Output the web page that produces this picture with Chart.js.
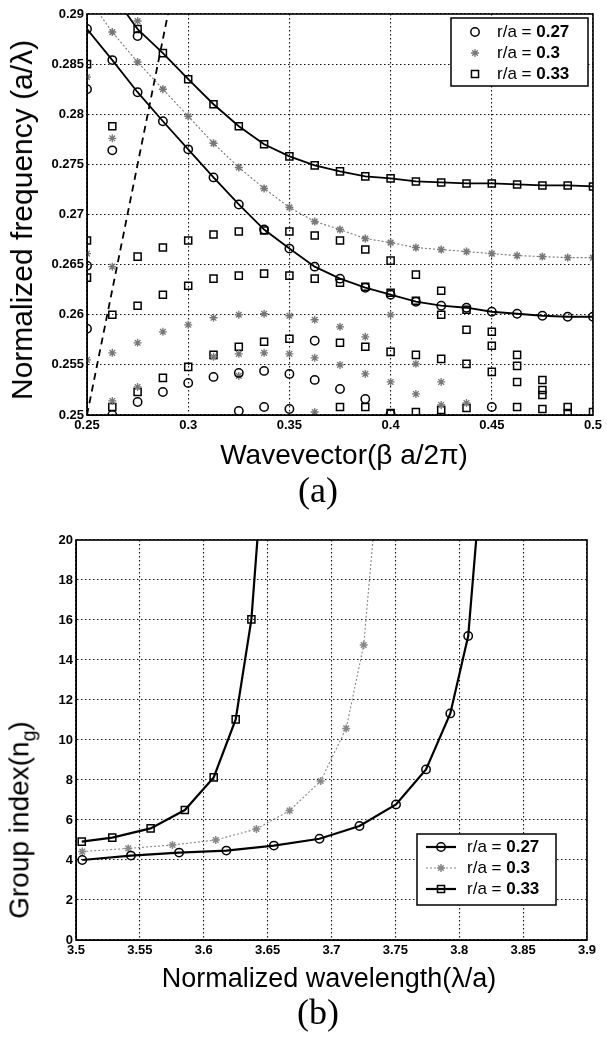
<!DOCTYPE html>
<html>
<head>
<meta charset="utf-8">
<script src="https://cdn.jsdelivr.net/npm/chart.js@4.4.1/dist/chart.umd.min.js"></script>
<style>
  body { margin: 0; background: #fff; }
  .page { position: relative; width: 607px; height: 1040px; overflow: hidden; font-family: 'Liberation Sans', Arial, sans-serif; color: #000; }
  .panel { position: absolute; left: 0; width: 607px; }
  .label { position: absolute; white-space: nowrap; transform: translate(-50%, -50%); line-height: 1; }
  .ylabel { transform: translate(-50%, -50%) rotate(-90deg); }
  .tag { font-family: 'Liberation Serif', 'Times New Roman', serif; font-size: 36px; }
  sub { font-size: 70%; }
</style>
</head>
<body>
<div class="page">
  <div class="panel" style="top:0;height:445px"><canvas id="bandChart"></canvas></div>
  <div class="panel" style="top:520px;height:450px"><canvas id="groupChart"></canvas></div>

  <div class="label ylabel" style="left:22px;top:220px;font-size:30px">Normalized frequency (a/λ)</div>
  <div class="label" style="left:344px;top:455px;font-size:28px">Wavevector(β a/2π)</div>
  <div class="label tag" style="left:318px;top:490px">(a)</div>

  <div class="label ylabel" style="left:22px;top:820px;font-size:28px">Group index(n<sub>g</sub>)</div>
  <div class="label" style="left:329px;top:978px;font-size:27px">Normalized wavelength(λ/a)</div>
  <div class="label tag" style="left:318px;top:1012px">(b)</div>
</div>

<script>
// (a) band diagram
const beta = [0.25, 0.2625, 0.275, 0.2875, 0.3, 0.3125, 0.325, 0.3375, 0.35, 0.3625, 0.375,
              0.3875, 0.4, 0.4125, 0.425, 0.4375, 0.45, 0.4625, 0.475, 0.4875, 0.5];
const band027 = [0.2885, 0.2854, 0.2822, 0.2793, 0.2765, 0.2737, 0.2710, 0.2685, 0.2666, 0.2648, 0.2636,
                 0.2627, 0.2620, 0.2613, 0.2609, 0.2607, 0.2603, 0.2601, 0.2599, 0.2598, 0.2598];
const band030 = [0.2917, 0.2882, 0.2852, 0.2825, 0.2798, 0.2771, 0.2747, 0.2726, 0.2707, 0.2693, 0.2685,
                 0.2676, 0.2672, 0.2667, 0.2665, 0.2663, 0.2661, 0.2659, 0.2658, 0.2657, 0.2657];
const band033 = [0.2955, 0.2920, 0.2885, 0.2861, 0.2835, 0.2810, 0.2788, 0.2770, 0.2758, 0.2749, 0.2743,
                 0.2738, 0.2736, 0.2733, 0.2732, 0.2731, 0.2731, 0.2730, 0.2729, 0.2729, 0.2728];

const lightBeta = [0.25, 0.29];
const lightFreq = [0.25, 0.29];

// other modes, not on the fitted curves
const circBeta = [0.25, 0.25, 0.25, 0.2625, 0.2625, 0.275, 0.275, 0.2875, 0.3, 0.3125, 0.325, 0.325,
                  0.3375, 0.3375, 0.35, 0.35, 0.3625, 0.3625, 0.375, 0.3875, 0.4, 0.45];
const circFreq = [0.2825, 0.2649, 0.2586, 0.2764, 0.2500, 0.2878, 0.2513, 0.2523, 0.2532, 0.2538, 0.2542, 0.2504,
                  0.2544, 0.2508, 0.2541, 0.2506, 0.2574, 0.2535, 0.2526, 0.2516, 0.2501, 0.2508];

const starBeta = [0.25, 0.25, 0.25, 0.2625, 0.2625, 0.2625, 0.2625, 0.275, 0.275, 0.275, 0.2875, 0.3,
                  0.3125, 0.3125, 0.325, 0.325, 0.325, 0.3375, 0.3375, 0.35, 0.35, 0.3625, 0.3625, 0.3625,
                  0.375, 0.375, 0.3875, 0.3875, 0.4, 0.4, 0.4125, 0.4125, 0.425, 0.425, 0.4375];
const starFreq = [0.2837, 0.2661, 0.2555, 0.2776, 0.2648, 0.2562, 0.2514, 0.2893, 0.2572, 0.2528, 0.2583, 0.2590,
                  0.2597, 0.2558, 0.2600, 0.2561, 0.2539, 0.2601, 0.2562, 0.2599, 0.2561, 0.2595, 0.2557, 0.2503,
                  0.2588, 0.2550, 0.2578, 0.2541, 0.2600, 0.2533, 0.2551, 0.2521, 0.2533, 0.2510, 0.2512];

const sqBeta = [0.25, 0.25, 0.25, 0.2625, 0.2625, 0.2625, 0.275, 0.275, 0.275, 0.2875, 0.2875, 0.2875,
                0.3, 0.3, 0.3, 0.3125, 0.3125, 0.3125, 0.325, 0.325, 0.325, 0.3375, 0.3375, 0.3375,
                0.35, 0.35, 0.35, 0.3625, 0.3625, 0.375, 0.375, 0.375, 0.375, 0.3875, 0.3875, 0.3875, 0.3875,
                0.4, 0.4, 0.4, 0.4, 0.4125, 0.4125, 0.4125, 0.4125, 0.425, 0.425, 0.425, 0.425,
                0.4375, 0.4375, 0.4375, 0.4375, 0.45, 0.45, 0.45, 0.4625, 0.4625, 0.4625, 0.4625,
                0.475, 0.475, 0.475, 0.475, 0.4875, 0.4875, 0.5];
const sqFreq = [0.2850, 0.2674, 0.2637, 0.2788, 0.2600, 0.2508, 0.2658, 0.2609, 0.2523, 0.2667, 0.2620, 0.2537,
                0.2674, 0.2629, 0.2548, 0.2680, 0.2636, 0.2560, 0.2683, 0.2639, 0.2568, 0.2684, 0.2641, 0.2573,
                0.2683, 0.2639, 0.2576, 0.2679, 0.2636, 0.2674, 0.2632, 0.2572, 0.2508, 0.2665, 0.2628, 0.2568, 0.2508,
                0.2654, 0.2622, 0.2563, 0.2502, 0.2640, 0.2614, 0.2560, 0.2503, 0.2624, 0.2600, 0.2556, 0.2505,
                0.2605, 0.2585, 0.2551, 0.2507, 0.2583, 0.2569, 0.2543, 0.2560, 0.2549, 0.2533, 0.2508,
                0.2535, 0.2525, 0.2520, 0.2506, 0.2508, 0.2502, 0.2503];

const betaTicks = [0.25, 0.3, 0.35, 0.4, 0.45, 0.5];
const freqTicks = [0.25, 0.255, 0.26, 0.265, 0.27, 0.275, 0.28, 0.285, 0.29];

// (b) group index
const wl027 = [3.5049, 3.5430, 3.5807, 3.6177, 3.6549, 3.6906, 3.7219, 3.7505, 3.7740, 3.7930, 3.8070, 3.8165];
const ng027 = [4.00, 4.22, 4.37, 4.47, 4.72, 5.06, 5.70, 6.78, 8.53, 11.33, 15.20, 22.5];
const wl030 = [3.5049, 3.5409, 3.5755, 3.6094, 3.6412, 3.6672, 3.6915, 3.7115, 3.7252, 3.7345];
const ng030 = [4.42, 4.58, 4.75, 5.00, 5.55, 6.47, 7.95, 10.58, 14.75, 21.5];
const wl033 = [3.5045, 3.5284, 3.5584, 3.5852, 3.6078, 3.6250, 3.6373, 3.6455];
const ng033 = [4.92, 5.12, 5.58, 6.50, 8.13, 11.03, 16.03, 23.0];

const wlTicks = [3.5, 3.55, 3.6, 3.65, 3.7, 3.75, 3.8, 3.85, 3.9];
const ngTicks = [0, 2, 4, 6, 8, 10, 12, 14, 16, 18, 20];

const seriesNames = ['r/a = 0.27', 'r/a = 0.3', 'r/a = 0.33'];

const pts = (xs, ys) => xs.map((x, i) => ({ x: x, y: ys[i] }));
const fmt = v => String(+Number(v).toFixed(4));
const tickFont = { family: "'Liberation Sans', Arial, sans-serif", size: 13, weight: 'bold' };

const framePlugin = {
    id: 'frame',
    afterDraw(chart) {
        const { ctx, chartArea: a } = chart;
        ctx.save();
        ctx.strokeStyle = '#000';
        ctx.lineWidth = 1.6;
        ctx.strokeRect(a.left, a.top, a.right - a.left, a.bottom - a.top);
        ctx.restore();
    }
};

const boxLegend = {
    id: 'boxLegend',
    afterDraw(chart, args, o) {
        const { ctx, chartArea } = chart;
        const items = chart.data.datasets.filter(d => d.inLegend);
        const left = chartArea.right - o.right - o.width;
        const top = o.top != null ? chartArea.top + o.top : chartArea.bottom - o.bottom - o.height;
        ctx.save();
        ctx.fillStyle = '#fff';
        ctx.fillRect(left, top, o.width, o.height);
        ctx.strokeStyle = '#000';
        ctx.lineWidth = 1.5;
        ctx.strokeRect(left, top, o.width, o.height);
        items.forEach((d, i) => {
            const y = top + o.firstRow + i * o.rowGap;
            const mx = left + o.markerX;
            if (o.lineSample) {
                ctx.save();
                ctx.strokeStyle = d.borderColor;
                ctx.lineWidth = d.borderWidth;
                ctx.setLineDash(d.borderDash || []);
                ctx.beginPath();
                ctx.moveTo(mx - o.lineHalf, y);
                ctx.lineTo(mx + o.lineHalf, y);
                ctx.stroke();
                ctx.restore();
            }
            ctx.save();
            ctx.strokeStyle = d.pointBorderColor;
            ctx.fillStyle = 'rgba(0,0,0,0)';
            ctx.lineWidth = d.pointBorderWidth;
            Chart.helpers.drawPoint(ctx, {
                pointStyle: d.pointStyle, radius: d.pointRadius, rotation: 0, borderWidth: d.pointBorderWidth
            }, mx, y);
            ctx.restore();

            const parts = d.label.split('= ');
            ctx.fillStyle = '#000';
            ctx.textBaseline = 'middle';
            ctx.font = o.fontSize + "px 'Liberation Sans', Arial, sans-serif";
            const head = parts[0] + '= ';
            ctx.fillText(head, left + o.textX, y);
            const w = ctx.measureText(head).width;
            ctx.font = 'bold ' + o.fontSize + "px 'Liberation Sans', Arial, sans-serif";
            ctx.fillText(parts[1], left + o.textX + w, y);
        });
        ctx.restore();
    }
};

function axis(min, max, ticks, size, isY) {
    return {
        type: 'linear',
        min: min,
        max: max,
        afterBuildTicks: s => { s.ticks = ticks.map(v => ({ value: v })); },
        afterFit: s => { if (isY) s.width = size; else s.height = size; },
        ticks: { font: tickFont, color: '#000', padding: 3, callback: fmt, autoSkip: false, maxRotation: 0 },
        grid: { color: '#111', lineWidth: 1.1, drawTicks: false },
        border: { display: true, color: '#000', width: 1, dash: [1.5, 2.5] }
    };
}

const curveStyle = (color, width, dash, style, radius) => ({
    showLine: true,
    borderColor: color,
    borderWidth: width,
    borderDash: dash,
    pointStyle: style,
    pointRadius: radius,
    pointBorderColor: color,
    pointBackgroundColor: 'rgba(0,0,0,0)',
    pointBorderWidth: 1.5
});

new Chart(document.getElementById('bandChart'), {
    type: 'scatter',
    data: {
        datasets: [
            { label: seriesNames[0], inLegend: true, data: pts(circBeta, circFreq), pointStyle: 'circle', pointRadius: 4.2,
              pointBorderColor: '#000', pointBackgroundColor: 'rgba(0,0,0,0)', pointBorderWidth: 1.5 },
            { label: seriesNames[1], inLegend: true, data: pts(starBeta, starFreq), pointStyle: 'star', pointRadius: 4,
              pointBorderColor: '#777', pointBackgroundColor: 'rgba(0,0,0,0)', pointBorderWidth: 1.3 },
            { label: seriesNames[2], inLegend: true, data: pts(sqBeta, sqFreq), pointStyle: 'rect', pointRadius: 5,
              pointBorderColor: '#000', pointBackgroundColor: 'rgba(0,0,0,0)', pointBorderWidth: 1.5 },
            Object.assign({ label: 'band 0.3', data: pts(beta, band030) }, curveStyle('#777', 1.1, [2, 2], 'star', 4)),
            Object.assign({ label: 'band 0.27', data: pts(beta, band027) }, curveStyle('#000', 1.8, [], 'circle', 4.2)),
            Object.assign({ label: 'band 0.33', data: pts(beta, band033) }, curveStyle('#000', 1.8, [], 'rect', 5)),
            { label: 'light line', data: pts(lightBeta, lightFreq), showLine: true, borderColor: '#000',
              borderWidth: 1.8, borderDash: [7, 5], pointRadius: 0 }
        ]
    },
    options: {
        responsive: true,
        maintainAspectRatio: false,
        animation: false,
        layout: { padding: { top: 14, right: 14, left: 0, bottom: 0 } },
        plugins: {
            legend: { display: false },
            tooltip: { enabled: false },
            boxLegend: { right: 5, top: 4, width: 137, height: 68, firstRow: 14, rowGap: 21,
                         markerX: 24, textX: 46, fontSize: 17, lineSample: false }
        },
        scales: {
            x: axis(0.25, 0.5, betaTicks, 30, false),
            y: axis(0.25, 0.29, freqTicks, 87, true)
        }
    },
    plugins: [framePlugin, boxLegend]
});

new Chart(document.getElementById('groupChart'), {
    type: 'scatter',
    data: {
        datasets: [
            Object.assign({ label: seriesNames[0], inLegend: true, data: pts(wl027, ng027) }, curveStyle('#000', 2.2, [], 'circle', 4.2)),
            Object.assign({ label: seriesNames[1], inLegend: true, data: pts(wl030, ng030) }, curveStyle('#888', 1.1, [2, 2], 'star', 4)),
            Object.assign({ label: seriesNames[2], inLegend: true, data: pts(wl033, ng033) }, curveStyle('#000', 2.2, [], 'rect', 5))
        ]
    },
    options: {
        responsive: true,
        maintainAspectRatio: false,
        animation: false,
        layout: { padding: { top: 20, right: 20, left: 0, bottom: 0 } },
        plugins: {
            legend: { display: false },
            tooltip: { enabled: false },
            boxLegend: { right: 31, bottom: 35, width: 139, height: 71, firstRow: 13, rowGap: 21,
                         markerX: 24, lineHalf: 15, textX: 50, fontSize: 17, lineSample: true }
        },
        scales: {
            x: axis(3.5, 3.9, wlTicks, 30, false),
            y: axis(0, 20, ngTicks, 76, true)
        }
    },
    plugins: [framePlugin, boxLegend]
});
</script>
</body>
</html>
